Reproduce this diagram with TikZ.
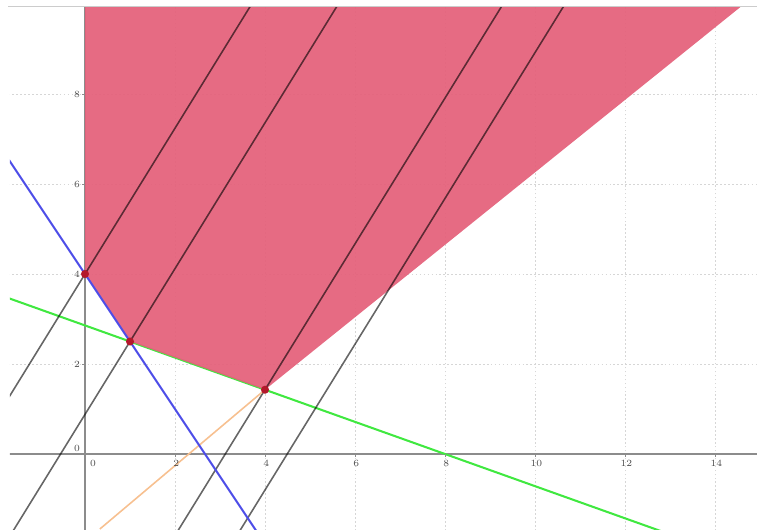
\documentclass[tikz,border=0pt]{standalone}
\usepackage{xcolor}
\usepackage{tikz}
\usetikzlibrary{arrows.meta}
\definecolor{regionFill}{HTML}{E4607A}
\definecolor{vertexDot}{HTML}{B3182B}
\definecolor{blueLine}{HTML}{4D4DE8}
\definecolor{greenLine}{HTML}{40E840}
\definecolor{orangeLine}{HTML}{F7C090}
\definecolor{axisGray}{HTML}{8C8C8C}
\definecolor{gridGray}{HTML}{D6D6D6}

\begin{document}
\begin{tikzpicture}[
  x=1cm, y=1cm,
  font=\fontsize{6}{7}\selectfont,
  grid line/.style={
    draw=gridGray,
    line width=0.5pt,
    dash pattern=on 1pt off 1.5pt
  },
  axis line/.style={
    draw=axisGray,
    line width=0.9pt
  },
  level line/.style={
    draw=black,
    draw opacity=0.6,
    line width=1pt
  },
  constraint/.style={
    line width=1.3pt
  },
  vertex/.style={
    circle,
    fill=vertexDot,
    inner sep=0pt,
    minimum size=1.8mm
  },
  tick label/.style={
    text=black!70,
    inner sep=1pt
  }
]
\useasboundingbox (-1.889,-1.667) rectangle (14.933,10.089);

% Corners of the shaded region
\coordinate (top) at (0,11);
\coordinate (vA) at (0,4);
\coordinate (vB) at (1,2.5);
\coordinate (vC) at (4,1.4286);
\coordinate (far) at (15.89,11);
\coordinate (orangeEnd) at (0.33,-1.667);

\begin{scope}
  \clip (-1.667,-1.667) rectangle (14.933,9.93);

  % Grid and axes
  \foreach \gx in {2,4,...,14}
    \draw[grid line] (\gx,-1.7) -- (\gx,10);
  \foreach \gy in {2,4,...,8}
    \draw[grid line] (-1.7,\gy) -- (15,\gy);
  \draw[axis line] (-1.7,0) -- (15,0);
  \draw[axis line] (0,-1.7) -- (0,10);

  % Green constraint (under the fill)
  \draw[constraint, draw=greenLine] (-1.8,{(40+9)/14}) -- (15,{(40-75)/14});

  % Feasible region
  \fill[regionFill, fill opacity=0.93] (top) -- (vA) -- (vB) -- (vC) -- (far) -- cycle;

  % Level lines of the objective
  \foreach \c in {4,0.88,-5.05,-7.28}
    \draw[level line] ({(-1.8-\c)/1.62},-1.8) -- ({(10.2-\c)/1.62},10.2);

  \draw[constraint, draw=orangeLine, line width=1pt] (vC) -- (orangeEnd);
  \draw[constraint, draw=blueLine] (-1.8,6.7) -- (4,-2);
\end{scope}

% Window border
\draw[draw=black!20, line width=0.6pt] (-1.71,9.956) -- (14.933,9.956);

% Tick marks and labels
\foreach \gx in {2,4,...,14} {
  \draw[axis line, line width=0.5pt] (\gx,0) -- (\gx,-0.07);
  \node[tick label] (xl\gx) at (\gx+0.03,-0.2) {\gx};
}
\foreach \gy in {2,4,...,8} {
  \draw[axis line, line width=0.5pt] (0,\gy) -- (-0.07,\gy);
  \node[tick label] (yl\gy) at (-0.18,\gy) {\gy};
}
\node[tick label] (zeroA) at (-0.18,0.13) {0};
\node[tick label] (zeroB) at (0.18,-0.2) {0};

% Vertices
\node[vertex] (dotA) at (vA) {};
\node[vertex] (dotB) at (vB) {};
\node[vertex] (dotC) at (vC) {};

\end{tikzpicture}
\end{document}
